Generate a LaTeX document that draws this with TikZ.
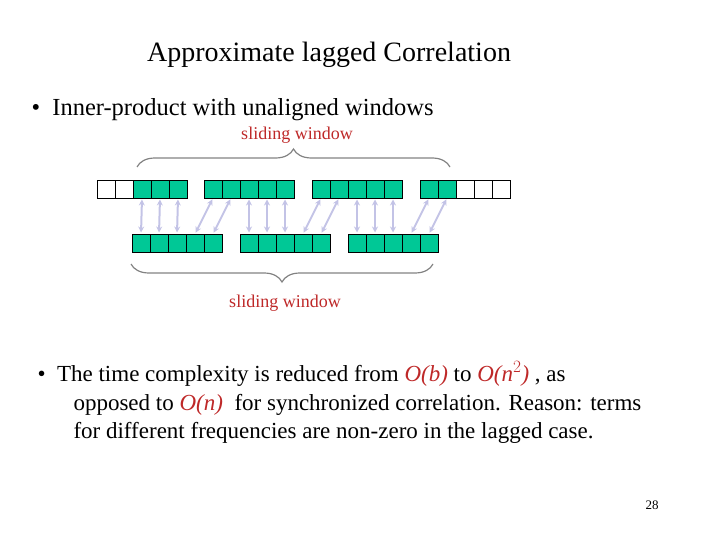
\documentclass[tikz,border=0pt]{standalone}
\usepackage{fontspec}
\setmainfont{Liberation Serif}
\usetikzlibrary{decorations.pathreplacing,arrows.meta}
\definecolor{cellg}{RGB}{0,200,150}
\definecolor{arr}{RGB}{195,195,230}
\definecolor{redt}{RGB}{190,40,40}
\definecolor{brc}{RGB}{130,130,130}
\begin{document}
\begin{tikzpicture}[x=1pt,y=-1pt,
  cellbox/.style={draw=black,line width=0.6pt,minimum width=18pt,minimum height=18pt,inner sep=0pt,outer sep=0pt,fill=cellg},
  cellw/.style={cellbox,fill=white},
  link/.style={draw=arr,line width=2pt,{Stealth[length=6pt,width=6pt]}-{Stealth[length=6pt,width=6pt]}},
  brc/.style={draw=brc,line width=1.2pt,decorate,decoration={brace,amplitude=18pt}}]
\useasboundingbox (0,0) rectangle (720,540);
\node[font=\fontsize{28}{32}\selectfont] (title) at (329,55) {Approximate lagged Correlation};
\node[anchor=west,font=\fontsize{24.5}{28}\selectfont] (b1) at (28,110) {\textbullet\ \ Inner-product with unaligned windows};
% top row
\foreach \i/\x/\s in {1/106/cellw,2/124/cellw,3/142/cellbox,4/160/cellbox,5/178/cellbox,
 6/213/cellbox,7/231/cellbox,8/249/cellbox,9/267/cellbox,10/285/cellbox,
 11/321/cellbox,12/339/cellbox,13/357/cellbox,14/375/cellbox,15/393/cellbox,
 16/429/cellbox,17/447/cellbox,18/465/cellw,19/483/cellw,20/501/cellw}
  \node[\s] (t\i) at (\x,189) {};
% bottom row
\foreach \i/\x in {1/141,2/159,3/177,4/195,5/213,6/249,7/267,8/285,9/303,10/321,11/357,12/375,13/393,14/411,15/429}
  \node[cellbox] (d\i) at (\x,243) {};
\foreach \a/\b in {3/1,4/2,5/3,6/4,7/5,8/6,9/7,10/8,11/9,12/10,13/11,14/12,15/13,16/14,17/15}
  \draw[link,shorten <=1.5pt,shorten >=1.5pt] (t\a.south) -- (d\b.north);
\draw[brc] (137,167) -- coordinate[pos=0.5] (bt) (450,167);
\node[text=redt,font=\fontsize{18}{21}\selectfont] (sw1) at (297,135) {sliding window};
\draw[brc] (433,264) -- coordinate[pos=0.5] (bb) (131,264);
\node[text=redt,font=\fontsize{18}{21}\selectfont] (sw2) at (285,303) {sliding window};
\node[anchor=north west,align=left,font=\fontsize{23}{28.5}\selectfont] (b2) at (34,358)
 {\textbullet\ \ The time complexity is reduced from \textcolor{redt}{\textit{O(b)}} to \textcolor{redt}{\textit{O(n}$^{2}$\textit{)}} , as\\
 \hspace*{36pt}opposed to \textcolor{redt}{\textit{O(n)}}\ \ for synchronized correlation. Reason: terms\\
 \hspace*{36pt}for different frequencies are non-zero in the lagged case.};
\node[font=\fontsize{13}{15}\selectfont] (pg) at (652,505) {28};
\end{tikzpicture}
\end{document}
